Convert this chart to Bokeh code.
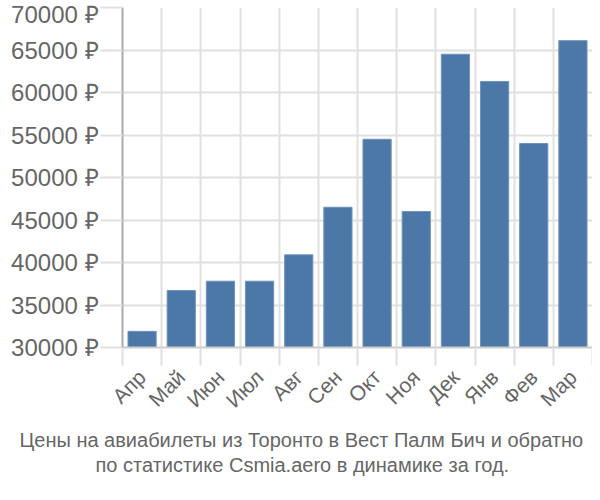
from bokeh.plotting import figure
from bokeh.models import ColumnDataSource, FixedTicker, Range1d, Title
from bokeh.embed import file_html
from bokeh.resources import INLINE
import math

months = ["Апр", "Май", "Июн", "Июл", "Авг", "Сен", "Окт", "Ноя", "Дек", "Янв", "Фев", "Мар"]
prices = [31900, 36700, 37800, 37800, 40900, 46500, 54500, 46000, 64500, 61300, 54000, 66100]
y_ticks = [30000, 35000, 40000, 45000, 50000, 55000, 60000, 65000, 70000]
title_lines = ["Цены на авиабилеты из Торонто в Вест Палм Бич и обратно",
               "по статистике Csmia.aero в динамике за год."]

centers = [i + 0.5 for i in range(len(months))]
bounds = list(range(len(months) + 1))

src = ColumnDataSource(dict(x=centers, top=prices, m=months))

W, H = 592, 484
p = figure(width=W, height=H, output_backend="svg", toolbar_location=None,
           x_range=Range1d(0, len(months)), y_range=Range1d(30000, 70000),
           min_border_left=122, min_border_top=7, min_border_right=0, min_border_bottom=137)
p.outline_line_color = None
p.background_fill_color = "white"

p.vbar(x="x", top="top", bottom=30000, width=0.72, source=src,
       fill_color="#4c78a8", line_color="#6f93bd", line_width=1)

FONT = "Liberation Sans"
GRID = "#e0e0e0"
TXT = "#666666"

p.xaxis.ticker = FixedTicker(ticks=centers, minor_ticks=bounds)
p.xaxis.major_label_overrides = {c: m for c, m in zip(centers, months)}
p.xaxis.major_tick_line_color = None
p.xaxis.major_tick_out = 0
p.xaxis.major_tick_in = 0
p.xaxis.minor_tick_out = 18
p.xaxis.minor_tick_in = 0
p.xaxis.minor_tick_line_color = GRID
p.xaxis.minor_tick_line_width = 2
p.xaxis.axis_line_color = "#cccccc"
p.xaxis.axis_line_width = 2
p.xaxis.major_label_orientation = math.pi / 4
p.xaxis.major_label_text_font = FONT
p.xaxis.major_label_text_font_size = "21px"
p.xaxis.major_label_text_color = TXT
p.xaxis.major_label_standoff = 8

p.xgrid.ticker = FixedTicker(ticks=bounds)
p.xgrid.grid_line_color = GRID
p.xgrid.grid_line_width = 2

p.yaxis.ticker = FixedTicker(ticks=y_ticks)
p.yaxis.major_label_overrides = {t: f"{t} ₽" for t in y_ticks}
p.yaxis.major_tick_out = 22
p.yaxis.major_tick_in = 0
p.yaxis.major_tick_line_color = GRID
p.yaxis.major_tick_line_width = 2
p.yaxis.minor_tick_line_color = None
p.yaxis.axis_line_color = "#aaaaaa"
p.yaxis.axis_line_width = 2
p.yaxis.major_label_text_font = FONT
p.yaxis.major_label_text_font_size = "24px"
p.yaxis.major_label_text_color = TXT
p.yaxis.major_label_standoff = 2

p.ygrid.grid_line_color = GRID
p.ygrid.grid_line_width = 2

for line, sof, off in zip(title_lines, [8, -5], [-103, -27]):
    t = Title(text=line, align="left", text_font=FONT, text_font_size="20px",
              text_color=TXT, text_font_style="normal", standoff=sof, offset=off)
    p.add_layout(t, "below")

open("out.html", "w").write(file_html(p, INLINE))
